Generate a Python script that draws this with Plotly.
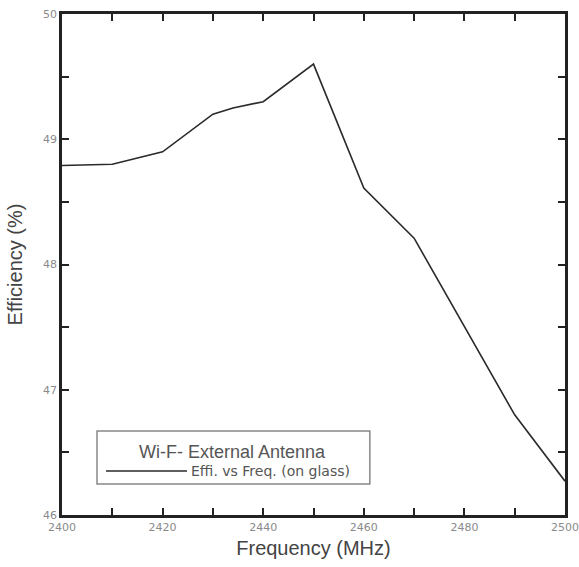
import plotly.graph_objects as go

freq = [2400, 2410, 2420, 2430, 2434, 2440, 2450, 2460, 2470, 2480, 2490, 2500]
eff = [48.79, 48.80, 48.90, 49.20, 49.25, 49.30, 49.60, 48.61, 48.21, 47.50, 46.80, 46.27]

series_name = "Effi. vs Freq. (on glass)"
legend_title = "Wi-F- External Antenna"
x_title = "Frequency (MHz)"
y_title = "Efficiency (%)"

font_family = "Liberation Sans, Arial, sans-serif"
tick_family = "DejaVu Sans, sans-serif"
line_color = "#2a2a2a"

fig = go.Figure()
fig.add_trace(go.Scatter(x=freq, y=eff, mode="lines", name=series_name,
                         showlegend=False,
                         line=dict(color=line_color, width=1.6)))

axis_common = dict(showline=True, linecolor="#222", linewidth=2.5, mirror="allticks",
                   ticks="inside", ticklen=7, tickwidth=2, tickcolor="#222",
                   showgrid=False, zeroline=False, automargin=False,
                   tickfont=dict(family=tick_family, size=11, color="#8a8a8a"))

fig.update_xaxes(range=[2400, 2500], dtick=20, tick0=2400,
                 minor=dict(dtick=10, ticks="inside", ticklen=7, tickwidth=2, tickcolor="#222"),
                 title=dict(text=x_title, font=dict(family=font_family, size=20, color="#444"), standoff=9),
                 **axis_common)
fig.update_yaxes(range=[46, 50], dtick=1, tick0=46,
                 minor=dict(dtick=0.5, ticks="inside", ticklen=7, tickwidth=2, tickcolor="#222"),
                 title=dict(text=y_title, font=dict(family=font_family, size=20, color="#444"), standoff=16),
                 **axis_common)

# Legend box drawn by hand (paper coordinates) to match the original style
fig.add_shape(type="rect", xref="paper", yref="paper",
              x0=0.0696, x1=0.612, y0=0.0619, y1=0.1677,
              line=dict(color="#888", width=1.5), fillcolor="white", layer="above")
fig.add_shape(type="line", xref="paper", yref="paper",
              x0=0.0875, x1=0.2485, y0=0.0878, y1=0.0878,
              line=dict(color=line_color, width=1.6), layer="above")
fig.add_annotation(xref="paper", yref="paper", x=0.338, y=0.1257,
                   text=legend_title, showarrow=False, xanchor="center", yanchor="middle",
                   font=dict(family=font_family, size=18, color="#555"))
fig.add_annotation(xref="paper", yref="paper", x=0.2525, y=0.0878,
                   text=series_name, showarrow=False, xanchor="left", yanchor="middle",
                   font=dict(family=tick_family, size=14, color="#555"))

fig.update_layout(
    width=579, height=567,
    margin=dict(l=62, r=14, t=14, b=52),
    paper_bgcolor="white", plot_bgcolor="white",
    showlegend=False,
)

fig.write_html("out.html")
